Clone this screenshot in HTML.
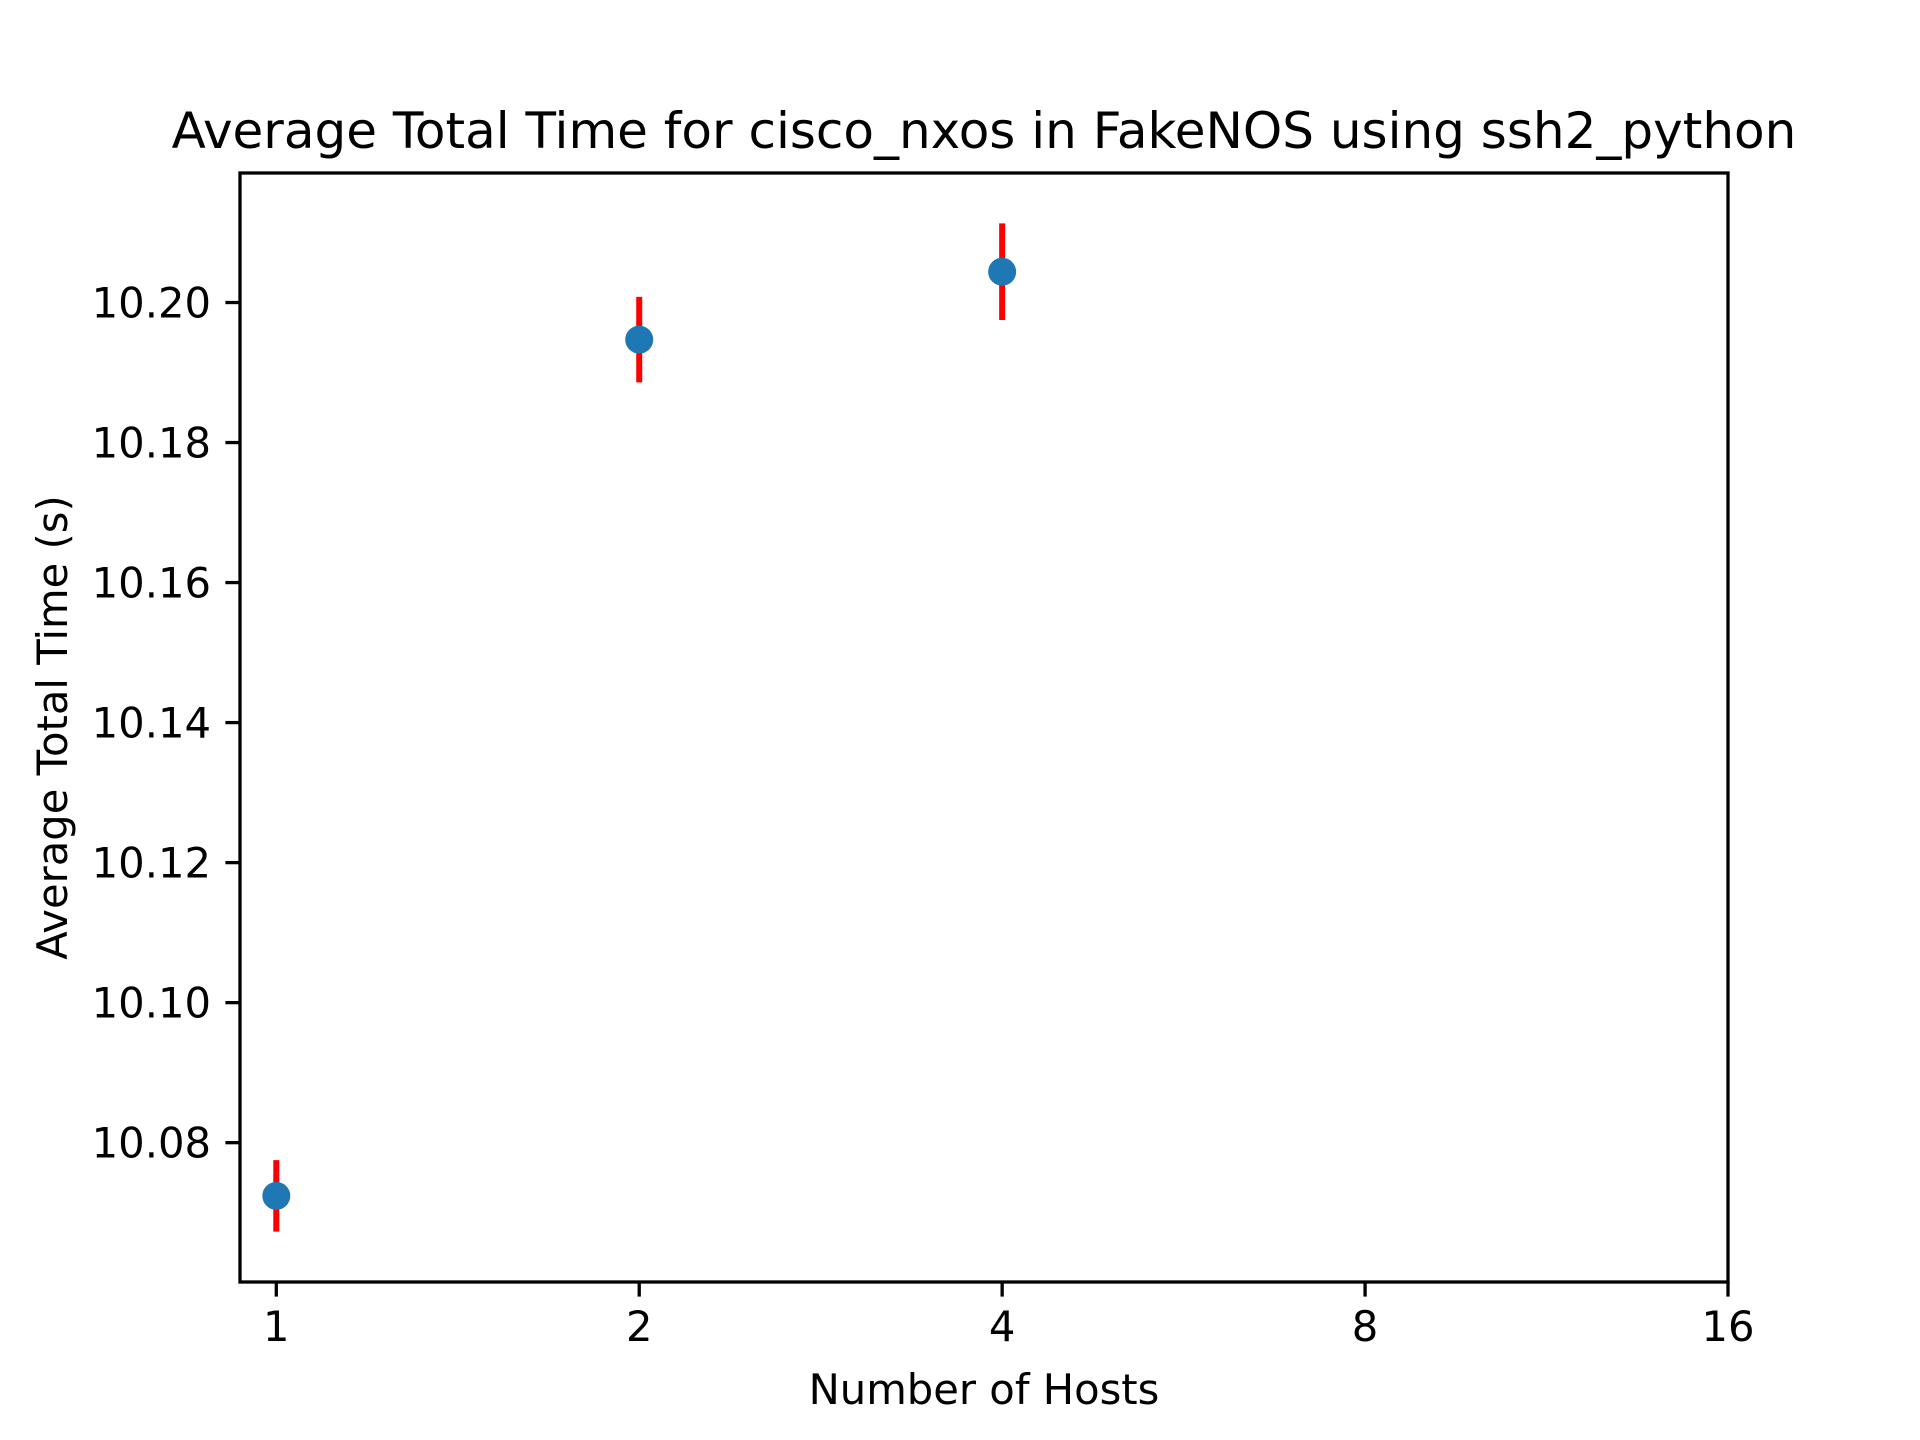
<!DOCTYPE html>
<html><head><meta charset="utf-8"><style>
html,body{margin:0;padding:0;background:#fff;}
svg{display:block;font-family:"DejaVu Sans","Liberation Sans",sans-serif;}
</style></head><body>
<svg id="chart" width="1920" height="1440" viewBox="0 0 1920 1440">
<rect width="1920" height="1440" fill="#fff"/>
<text x="984" y="148" font-size="50" text-anchor="middle">Average Total Time for cisco_nxos in FakeNOS using ssh2_python</text>
<g id="xticks"></g>
<g id="yticks"></g>
<g id="marks"></g>
<rect x="240" y="173" width="1488" height="1109" fill="none" stroke="#000" stroke-width="3.3"/>
<text x="984" y="1404" font-size="41.7" text-anchor="middle">Number of Hosts</text>
<text transform="translate(67,727.5) rotate(-90)" font-size="41.7" text-anchor="middle">Average Total Time (s)</text>
</svg>
<script>
const hosts = [1, 2, 4];
const meanTimes = [10.0724, 10.1947, 10.2044];
const errors = [0.0051, 0.0061, 0.0069];
const xTickValues = [1, 2, 4, 8, 16];
const yTickValues = [10.08, 10.10, 10.12, 10.14, 10.16, 10.18, 10.20];

const NS = 'http://www.w3.org/2000/svg';
const L = 240, R = 1728, T = 173, B = 1282;
const xLo = -0.1, xHi = 4;
let lo = Infinity, hi = -Infinity;
for (let i = 0; i < meanTimes.length; i++) {
  lo = Math.min(lo, meanTimes[i] - errors[i]);
  hi = Math.max(hi, meanTimes[i] + errors[i]);
}
const pad = (hi - lo) * 0.05;
const yLo = lo - pad, yHi = hi + pad;
function xs(v) { return L + (Math.log2(v) - xLo) / (xHi - xLo) * (R - L); }
function ys(v) { return B - (v - yLo) / (yHi - yLo) * (B - T); }
function mk(tag, attrs, parent) {
  const e = document.createElementNS(NS, tag);
  for (const k in attrs) e.setAttribute(k, attrs[k]);
  parent.appendChild(e);
  return e;
}
const gx = document.getElementById('xticks');
xTickValues.forEach(v => {
  const x = xs(v);
  const t = mk('line', {x1: x, x2: x, y1: B, y2: B + 14.6, stroke: '#000', 'stroke-width': 3.3}, gx);
  
  
  const l = mk('text', {x: x, y: 1341, 'font-size': 41.7, 'text-anchor': 'middle'}, gx);
  l.textContent = String(v);
  
  
});
const gy = document.getElementById('yticks');
yTickValues.forEach(v => {
  const y = ys(v);
  const t = mk('line', {x1: L - 14.6, x2: L, y1: y, y2: y, stroke: '#000', 'stroke-width': 3.3}, gy);
  
  
  const l = mk('text', {x: 211, y: y + 15, 'font-size': 41.7, 'text-anchor': 'end'}, gy);
  l.textContent = v.toFixed(2);
  
  
});
const gm = document.getElementById('marks');
hosts.forEach((h, i) => {
  const x = xs(h);
  const e = mk('line', {x1: x, x2: x, y1: ys(meanTimes[i] - errors[i]), y2: ys(meanTimes[i] + errors[i]), stroke: '#ff0000', 'stroke-width': 6}, gm);
  
  
});
hosts.forEach((h, i) => {
  const c = mk('circle', {cx: xs(h), cy: ys(meanTimes[i]), r: 14, fill: '#1f77b4'}, gm);
  
  
});
</script>
</body></html>
